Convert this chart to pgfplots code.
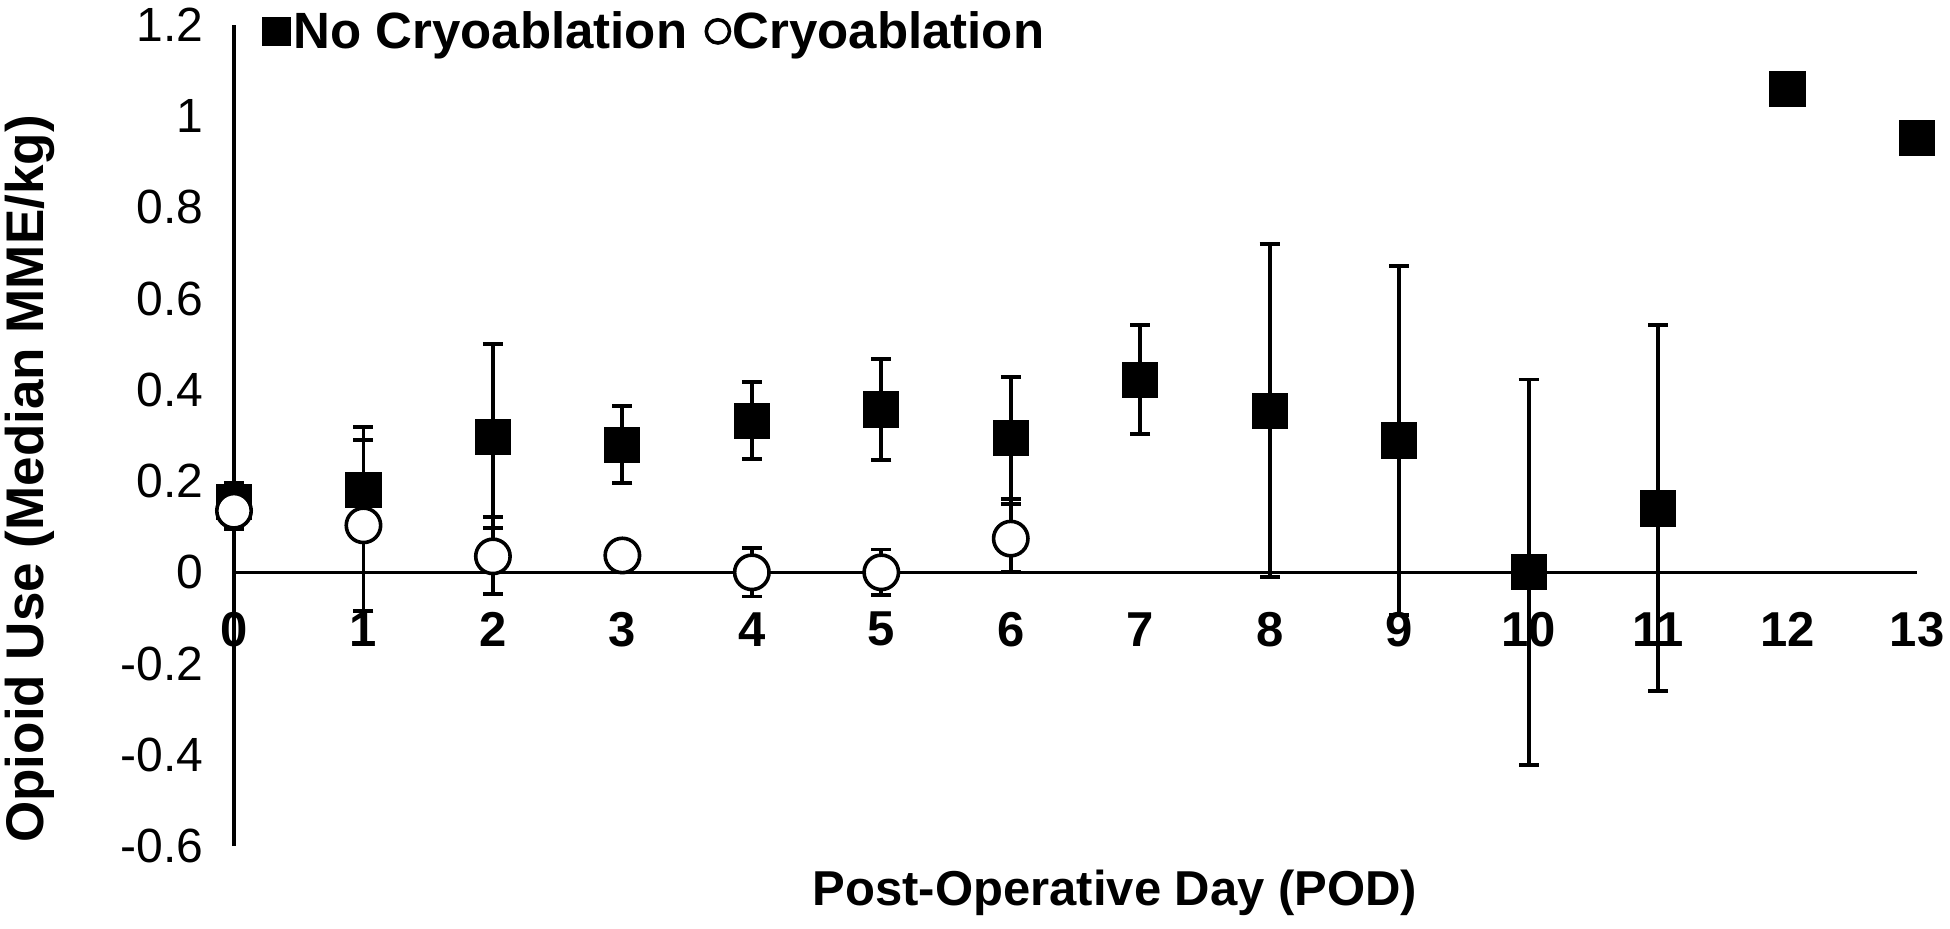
\documentclass[border=0pt]{standalone}
\usepackage{pgfplots}
\usepackage{pgfplotstable}
\pgfplotsset{compat=1.18}
\usepackage{fontspec}
\setmainfont{Liberation Sans}

\pgfplotstableread{
x y ep em
0 0.155 0.040 0.060
1 0.181 0.138 0.061
2 0.297 0.203 0.200
3 0.280 0.085 0.084
4 0.332 0.086 0.084
5 0.357 0.110 0.110
6 0.295 0.134 0.146
7 0.422 0.120 0.118
8 0.354 0.366 0.364
9 0.289 0.382 0.382
10 0.000 0.423 0.423
11 0.140 0.402 0.400
12 1.059 0 0
13 0.952 0 0
}\nocryo

\pgfplotstableread{
x y ep em
0 0.135 0 0
1 0.103 0.188 0.188
2 0.035 0.087 0.083
3 0.037 0 0
4 0.000 0.053 0.053
5 0.000 0.050 0.050
6 0.074 0.087 0.074
}\cryo

\begin{document}
\begin{tikzpicture}
\begin{axis}[
  at={(0,0)}, anchor=south west,
  scale only axis, width=841.5pt, height=410.5pt,
  xmin=0, xmax=13, ymin=-0.6, ymax=1.2,
  clip=false,
  axis x line=middle, axis y line=left,
  axis line style={-, line width=1.8pt, black},
  hide obscured x ticks=false, hide obscured y ticks=false,
  xtick={0,1,2,3,4,5,6,7,8,9,10,11,12,13},
  xticklabels={0,1,2,3,4,5,6,7,8,9,10,11,12,13},
  ytick={-0.6,-0.4,-0.2,0,0.2,0.4,0.6,0.8,1,1.2},
  yticklabels={-0.6,-0.4,-0.2,0,0.2,0.4,0.6,0.8,1,1.2},
  major tick length=0pt,
  yticklabel style={font=\fontsize{24}{28}\selectfont, anchor=east, inner sep=0pt, xshift=-15pt},
  xticklabel style={font=\bfseries\fontsize{24.5}{28}\selectfont, anchor=center, inner sep=0pt, yshift=-28.5pt},
  xlabel={Post-Operative Day (POD)},
  ylabel={Opioid Use (Median MME/kg)},
  every axis x label/.style={at={(rel axis cs:0.5235,-0.0572)}, anchor=center, font=\bfseries\fontsize{24.5}{28}\selectfont},
  every axis y label/.style={at={(rel axis cs:-0.1212,0.447)}, anchor=center, rotate=90, font=\bfseries\fontsize{26.5}{30}\selectfont},
  legend style={draw=none, fill=none, at={(axis cs:0.22,1.186)}, anchor=west,
    legend columns=-1, font=\bfseries\fontsize{25.5}{30}\selectfont,
    inner sep=0pt, outer sep=0pt, nodes={inner sep=1.5pt},
    /tikz/every even column/.append style={column sep=8pt}},
]
\addplot[only marks, mark=square*, mark size=8.8pt, line width=1.9pt,
  mark options={fill=black, draw=black, line width=0.5pt},
  legend image code/.code={\draw[mark=square*, mark size=7pt, fill=black, draw=black, line width=0.5pt] plot coordinates {(7pt,0pt)};},
  error bars/.cd, y dir=both, y explicit,
  error bar style={line width=1.9pt, black},
  error mark options={rotate=90, line width=1.9pt, mark size=5pt, black}]
  table[x=x, y=y, y error plus=ep, y error minus=em]{\nocryo};
\addlegendentry{No Cryoablation}

\addplot[forget plot, only marks, mark=none, line width=1.9pt,
  error bars/.cd, y dir=both, y explicit,
  error bar style={line width=1.9pt, black},
  error mark options={rotate=90, line width=1.9pt, mark size=5pt, black}]
  table[x=x, y=y, y error plus=ep, y error minus=em]{\cryo};

\addplot[only marks, mark=*, mark size=8.6pt,
  mark options={fill=white, draw=black, line width=1.8pt},
  legend image code/.code={\draw[mark=o, mark size=5.8pt, line width=1.1pt, black] plot coordinates {(6.5pt,0pt)};}]
  table[x=x, y=y]{\cryo};
\addlegendentry{Cryoablation}
\end{axis}
\pgfresetboundingbox
\path[use as bounding box] (-117pt,-41pt) rectangle (858pt,423pt);
\end{tikzpicture}
\end{document}
